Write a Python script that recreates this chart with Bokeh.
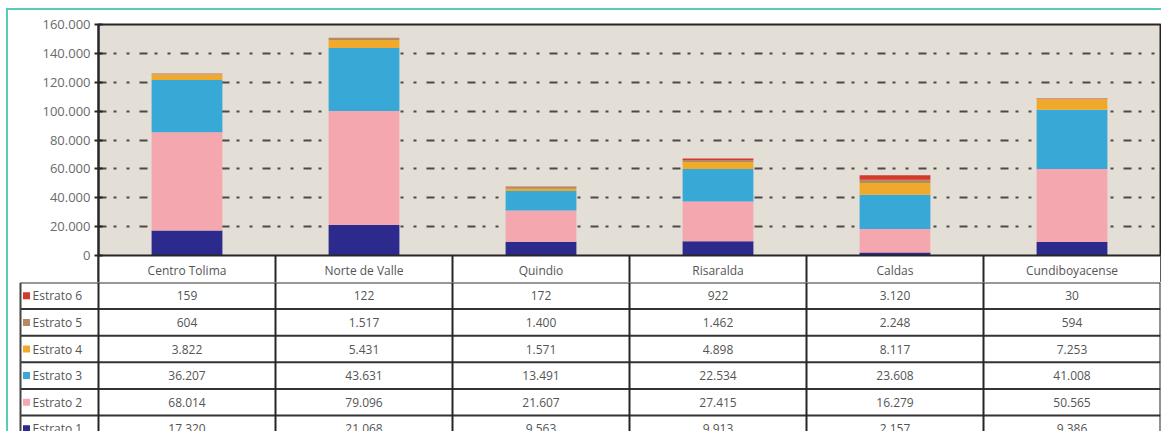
from bokeh.plotting import figure
from bokeh.models import FactorRange, Range1d, FixedTicker, CustomJSTickFormatter, ColumnDataSource, Span
from bokeh.core.properties import value
from bokeh.embed import file_html
from bokeh.resources import INLINE

# ---------------- data ----------------
categories = ["Centro Tolima", "Norte de Valle", "Quindio", "Risaralda", "Caldas", "Cundiboyacense"]
estrato_1 = [17320, 21068, 9563, 9913, 2157, 9386]
estrato_2 = [68014, 79096, 21607, 27415, 16279, 50565]
estrato_3 = [36207, 43631, 13491, 22534, 23608, 41008]
estrato_4 = [3822, 5431, 1571, 4898, 8117, 7253]
estrato_5 = [604, 1517, 1400, 1462, 2248, 594]
estrato_6 = [159, 122, 172, 922, 3120, 30]
series_names = ["Estrato 1", "Estrato 2", "Estrato 3", "Estrato 4", "Estrato 5", "Estrato 6"]
y_ticks = [0, 20000, 40000, 60000, 80000, 100000, 120000, 140000, 160000]

# ---------------- style ----------------
colors = ["#2d2a8e", "#f4a7ae", "#38a9d6", "#f1a92c", "#b38a62", "#d3392a"]
FONT = "Open Sans"
TEXT_COLOR = "#555555"
TEAL = "#5ccab8"
LINE = "#262626"

series = [estrato_1, estrato_2, estrato_3, estrato_4, estrato_5, estrato_6]
keys = ["e1", "e2", "e3", "e4", "e5", "e6"]
data = {"cat": categories}
for k, s in zip(keys, series):
    data[k] = s
src = ColumnDataSource(data)

# geometry (pixels)
plot_h = 231          # 0 .. 160000
header_h = 29         # category header row
y_max = 160000
y_min = -header_h * y_max / plot_h
n_cat = len(categories)

# ---------------- top: stacked bars + header row ----------------
p = figure(x_range=FactorRange(*categories), y_range=Range1d(y_min, y_max),
           width=1155, height=14 + plot_h + header_h, output_backend="svg", toolbar_location=None,
           min_border_left=90, min_border_right=3, min_border_top=14, min_border_bottom=0,
           x_axis_location=None,
           styles={"margin-top": "8px", "margin-left": "6px",
                   "border-top": f"2px solid {TEAL}", "border-left": f"2px solid {TEAL}"})
p.background_fill_color = "#e4dfd6"
p.border_fill_color = "white"
p.outline_line_color = LINE
p.outline_line_width = 2
p.xgrid.visible = False
p.ygrid.ticker = FixedTicker(ticks=y_ticks[1:-1])
p.ygrid.grid_line_color = "#4a4a4a"
p.ygrid.grid_line_width = 2
p.ygrid.grid_line_dash = "8 7 3 10 3 10"

p.vbar_stack(keys, x="cat", width=0.4, color=colors, line_color=None, source=src)

# header row (white band under the zero line)
p.quad(left=[0], right=[n_cat], bottom=[y_min], top=[0], fill_color="white", line_color=None)
p.segment(x0=list(range(1, n_cat)), x1=list(range(1, n_cat)), y0=[y_min] * (n_cat - 1),
          y1=[0] * (n_cat - 1), line_color=LINE, line_width=2)
p.add_layout(Span(location=0, dimension="width", line_color=LINE, line_width=2))
p.text(x="cat", y=y_min / 2, text="cat", source=src,
       text_align="center", text_baseline="middle", text_color=TEXT_COLOR,
       text_font=value(FONT), text_font_size="12px")

ax = p.yaxis[0]
ax.ticker = FixedTicker(ticks=y_ticks)
ax.formatter = CustomJSTickFormatter(code="return Math.round(tick).toString().replace(/\\B(?=(\\d{3})+(?!\\d))/g, '.');")
ax.major_tick_in = 4
ax.major_tick_out = 4
ax.minor_tick_line_color = None
ax.axis_line_color = LINE
ax.axis_line_width = 2
ax.major_tick_line_color = LINE
ax.major_tick_line_width = 2
ax.major_label_text_color = "#6a6a6a"
ax.major_label_text_font = FONT
ax.major_label_text_font_size = "13px"
ax.major_label_standoff = 4

# ---------------- bottom: data table ----------------
col_px = 1062 / 6.0
legend_px = 80
x0 = -legend_px / col_px
bottom_h = 149
q = figure(x_range=Range1d(x0, n_cat), y_range=Range1d(bottom_h, 0),
           width=1155, height=bottom_h, output_backend="svg", toolbar_location=None,
           min_border_left=10, min_border_right=3, min_border_top=0, min_border_bottom=0,
           x_axis_location=None, y_axis_location=None,
           styles={"margin-left": "6px", "border-left": f"2px solid {TEAL}"})
q.grid.visible = False
q.outline_line_color = None
q.background_fill_color = "white"
q.border_fill_color = "white"

row_h = 26.6
n_rows = len(series_names)
row_order = list(range(n_rows))[::-1]  # Estrato 6 at top
row_centers = [row_h * (i + 0.5) for i in range(n_rows)]
col_centers = [i + 0.5 for i in range(n_cat)]
left_edge = x0 + 2 / col_px

# table lines
hy = [row_h * k for k in range(n_rows + 1)]
q.segment(x0=[left_edge] * len(hy), x1=[n_cat] * len(hy), y0=hy, y1=hy,
          line_color="#333333", line_width=2)
q.segment(x0=list(range(n_cat + 1)), x1=list(range(n_cat + 1)),
          y0=[0] * (n_cat + 1), y1=[bottom_h + 10] * (n_cat + 1),
          line_color=LINE, line_width=2)
q.segment(x0=[left_edge], x1=[left_edge], y0=[0], y1=[bottom_h + 10],
          line_color="#444444", line_width=2)

# legend column
leg_names = [series_names[i] for i in row_order]
leg_colors = [colors[i] for i in row_order]
q.scatter(x=[(26 - 98) / col_px] * n_rows, y=row_centers, marker="square", size=7,
          color=leg_colors, line_color=None)
q.text(x=[(32 - 98) / col_px] * n_rows, y=row_centers, text=leg_names,
       text_align="left", text_baseline="middle", text_color=TEXT_COLOR,
       text_font=value(FONT), text_font_size="12px")

# values
vx, vy, vt = [], [], []
for r, si in enumerate(row_order):
    for c, v in enumerate(series[si]):
        vx.append(col_centers[c])
        vy.append(row_centers[r])
        vt.append(f"{v:,}".replace(",", "."))
q.text(x=vx, y=vy, text=vt, text_align="center", text_baseline="middle",
       text_color=TEXT_COLOR, text_font=value(FONT), text_font_size="12px")

open("out.html", "w").write(file_html([p, q], INLINE))
